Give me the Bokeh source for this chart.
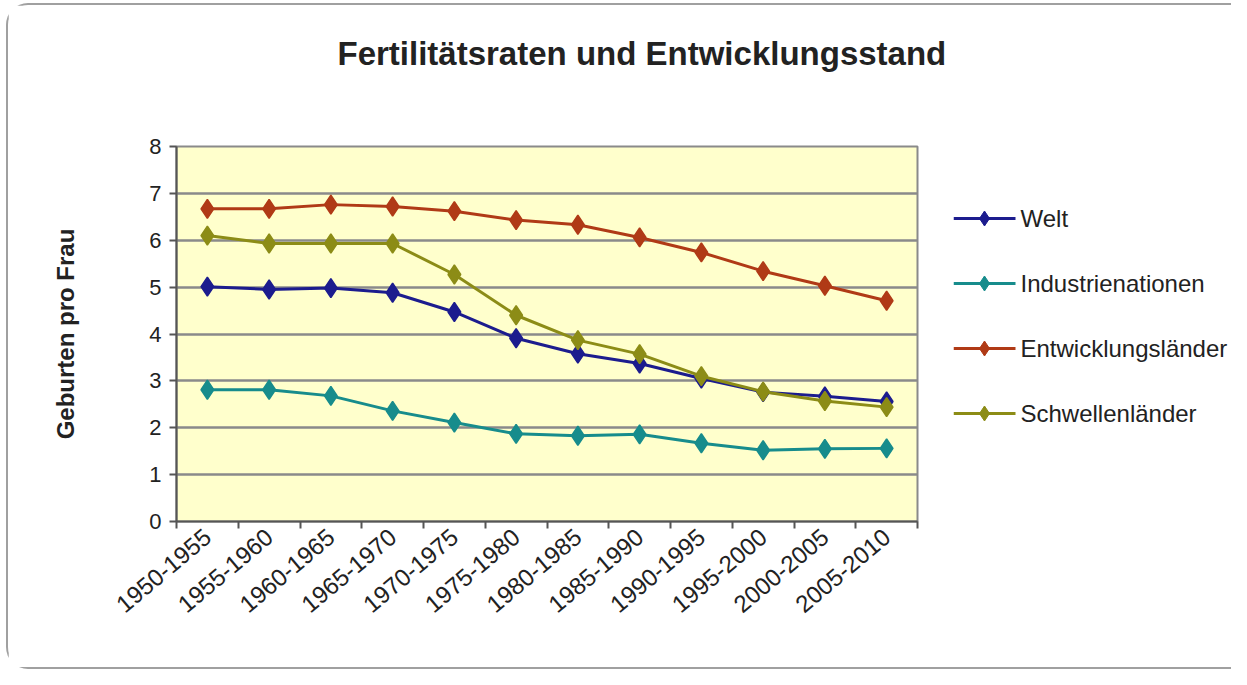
import math
from bokeh.plotting import figure
from bokeh.layouts import row
from bokeh.models import FixedTicker, Range1d, Title
from bokeh.core.properties import value
from bokeh.embed import file_html
from bokeh.resources import INLINE

categories = ["1950-1955", "1955-1960", "1960-1965", "1965-1970", "1970-1975", "1975-1980",
              "1980-1985", "1985-1990", "1990-1995", "1995-2000", "2000-2005", "2005-2010"]
welt = [5.01, 4.95, 4.98, 4.88, 4.47, 3.91, 3.58, 3.37, 3.05, 2.76, 2.67, 2.56]
industrienationen = [2.81, 2.81, 2.68, 2.36, 2.11, 1.87, 1.83, 1.86, 1.67, 1.52, 1.55, 1.56]
entwicklungslaender = [6.67, 6.67, 6.76, 6.72, 6.62, 6.43, 6.33, 6.06, 5.74, 5.34, 5.03, 4.71]
schwellenlaender = [6.10, 5.93, 5.93, 5.93, 5.27, 4.40, 3.87, 3.57, 3.10, 2.77, 2.57, 2.44]
series_names = ["Welt", "Industrienationen", "Entwicklungsländer", "Schwellenländer"]
series_colors = ["#1c1c8e", "#178c8c", "#b03a16", "#8c8c16"]
y_ticks = [0, 1, 2, 3, 4, 5, 6, 7, 8]

FONT = "Liberation Sans"
W1, W2, H = 945, 278, 662
FL, FT, FR, FB = 168, 141, 909, 516   # frame edges inside the main figure

xs = [i + 0.5 for i in range(len(categories))]

p = figure(width=W1, height=H, output_backend="svg", toolbar_location=None,
           x_range=Range1d(0, len(categories)), y_range=Range1d(0, 8),
           min_border_left=FL, min_border_right=W1 - FR,
           min_border_top=FT, min_border_bottom=H - FB)
p.background_fill_color = "#ffffcc"
p.border_fill_color = "white"
p.outline_line_color = "#8a8a8a"
p.outline_line_width = 2

# grid
p.xgrid.grid_line_color = None
p.ygrid.ticker = FixedTicker(ticks=y_ticks)
p.ygrid.grid_line_color = "#8a8a8a"
p.ygrid.grid_line_width = 2.5

# x axis
p.xaxis.ticker = FixedTicker(ticks=xs, minor_ticks=list(range(len(categories) + 1)))
p.xaxis.major_label_overrides = {x: c for x, c in zip(xs, categories)}
p.xaxis.major_tick_line_color = None
p.xaxis.minor_tick_line_color = "#555555"
p.xaxis.minor_tick_line_width = 2
p.xaxis.minor_tick_out = 7
p.xaxis.minor_tick_in = 0
p.xaxis.major_label_orientation = 0.70
p.xaxis.major_label_text_font = FONT
p.xaxis.major_label_text_font_size = "24px"
p.xaxis.major_label_text_color = "#222222"
p.xaxis.major_label_standoff = 5
p.xaxis.axis_line_color = "#555555"
p.xaxis.axis_line_width = 2

# y axis
p.yaxis.ticker = FixedTicker(ticks=y_ticks)
p.yaxis.minor_tick_line_color = None
p.yaxis.major_tick_line_color = "#555555"
p.yaxis.major_tick_line_width = 2
p.yaxis.major_tick_out = 7
p.yaxis.major_tick_in = 0
p.yaxis.axis_line_color = "#555555"
p.yaxis.axis_line_width = 2
p.yaxis.major_label_text_font = FONT
p.yaxis.major_label_text_font_size = "22px"
p.yaxis.major_label_text_color = "#222222"
p.yaxis.major_label_standoff = 8
p.yaxis.axis_label = "Geburten pro Frau"
p.yaxis.axis_label_text_font = FONT
p.yaxis.axis_label_text_font_style = "bold"
p.yaxis.axis_label_text_font_size = "24px"
p.yaxis.axis_label_text_color = "#222222"
p.yaxis.axis_label_standoff = 67

for vals, col in zip([welt, industrienationen, entwicklungslaender, schwellenlaender],
                     series_colors):
    p.line(xs, vals, line_color=col, line_width=3)
    p.scatter(xs, vals, marker="diamond", size=19,
              fill_color=col, line_color=col, line_width=1.5)

p.title.text = "Fertilitätsraten und Entwicklungsstand"
p.title.align = "left"
p.title.offset = 161
p.title.text_font = FONT
p.title.text_font_style = "bold"
p.title.text_font_size = "33px"
p.title.text_color = "#222222"
p.add_layout(Title(text=" ", text_font_size="52px"), "above")

# legend panel: a separate canvas to the right; its frame is aligned with the main frame
FRAME_H = FB - FT
p2 = figure(width=W2, height=H, output_backend="svg", toolbar_location=None,
            min_border=0, x_range=Range1d(0, W2), y_range=Range1d(FRAME_H, 0))
p2.axis.visible = False
p2.grid.visible = False
p2.title.visible = False
p2.outline_line_color = None
p2.background_fill_color = "white"
p2.border_fill_color = "white"

ROW0, PITCH = 72, 65
GLYPH_W, TEXT_X = 62, 67
for i, (name, col) in enumerate(zip(series_names, series_colors)):
    yy = ROW0 + i * PITCH
    p2.line([0, GLYPH_W], [yy, yy], line_color=col, line_width=3)
    p2.scatter([GLYPH_W / 2], [yy], marker="diamond", size=15, fill_color=col, line_color=col)
    p2.text([TEXT_X], [yy], text=[name], text_font=value(FONT), text_font_size="24px",
            text_color="#222222", text_baseline="middle", text_align="left")

layout = row(p, p2, spacing=0)
layout.styles = {"border-left": "2px solid #a0a0a0", "border-top": "2px solid #a0a0a0",
                 "border-bottom": "2px solid #a0a0a0",
                 "border-top-left-radius": "22px", "border-bottom-left-radius": "22px",
                 "margin-left": "6px", "margin-top": "3px"}

open("out.html", "w").write(file_html(layout, INLINE))
